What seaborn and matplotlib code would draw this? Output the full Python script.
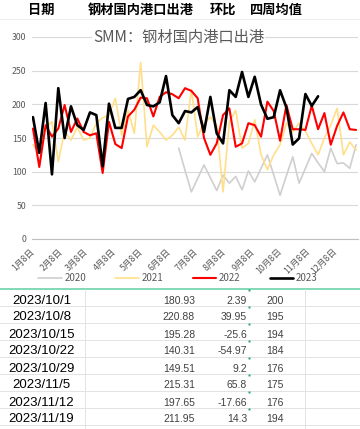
import pandas as pd
import matplotlib
matplotlib.use("Agg")
import matplotlib.pyplot as plt
import seaborn as sns
from matplotlib.lines import Line2D

# ---------------- data ----------------
years = ["2020", "2021", "2022", "2023"]
line_colors = ["#D0CECE", "#FFDF8A", "#FF0000", "#000000"]
line_widths = [1.2, 1.2, 1.5, 1.9]

# weekly port outflow (10k t), week 0 = Jan 8
start_2020 = 23
vals_2020 = [135, 102, 70, 90, 110, 91, 72, 95, 83, 93, 73, 101, 85, 105, 125,
             95, 65, 94, 122, 83, 105, 127, 113, 100, 135, 112, 113, 105, 140]
vals_2021 = [140, 127, 166, 174, 115, 160, 147, 166, 147, 150, 172, 180, 184,
             209, 154, 191, 157, 262, 137, 169, 159, 147, 154, 166, 147, 222,
             152, 172, 181, 169, 70, 174, 191, 135, 142, 177, 125, 103, 125,
             140, 172, 159, 172, 160, 142, 125, 150, 169, 194, 125, 144, 132]
vals_2022 = [164, 107, 169, 152, 164, 199, 159, 179, 159, 154, 157, 98, 174,
             141, 135, 182, 192, 210, 209, 182, 211, 218, 215, 209, 224, 220,
             209, 150, 125, 142, 184, 194, 137, 142, 172, 169, 152, 204, 190,
             146, 199, 163, 163, 162, 198, 163, 187, 140, 168, 188, 163, 162]
vals_2023 = [181, 128, 202, 96, 224, 150, 197, 169, 162, 188, 184, 108, 201,
             165, 165, 208, 211, 221, 199, 197, 203, 242, 184, 172, 190, 188,
             196, 159, 211, 157, 142, 221, 211, 248, 211, 240.9, 199.65, 178.54,
             180.93, 220.88, 195.28, 140.31, 149.51, 215.31, 197.65, 211.95]

month_labels = ["1月8日", "2月8日", "3月8日", "4月8日", "5月8日", "6月8日",
                "7月8日", "8月8日", "9月8日", "10月8日", "11月8日", "12月8日"]

header_labels = ["日期", "钢材国内港口出港", "环比", "四周均值"]
table_dates = ["2023/10/1", "2023/10/8", "2023/10/15", "2023/10/22",
               "2023/10/29", "2023/11/5", "2023/11/12", "2023/11/19"]
table_values = ["180.93", "220.88", "195.28", "140.31",
                "149.51", "215.31", "197.65", "211.95"]
table_change = ["2.39", "39.95", "-25.6", "-54.97", "9.2", "65.8", "-17.66", "14.3"]
table_avg4 = ["200", "195", "194", "184", "176", "175", "176", "194"]

rows = []
for yr, start, vals in [("2020", start_2020, vals_2020), ("2021", 0, vals_2021),
                        ("2022", 0, vals_2022), ("2023", 0, vals_2023)]:
    for i, v in enumerate(vals):
        rows.append({"week": start + i, "value": v, "year": yr})
df = pd.DataFrame(rows)

# ---------------- style ----------------
sns.set_style("white")
plt.rcParams["font.family"] = ["Noto Sans CJK SC", "DejaVu Sans"]

W, H = 360, 429
fig = plt.figure(figsize=(W / 100, H / 100), dpi=100)
fig.patch.set_facecolor("white")

# chart axes, placed in pixel terms
px_l, px_r, px_t, px_b = 32, 358, 37, 239
ax = fig.add_axes([px_l / W, 1 - px_b / H, (px_r - px_l) / W, (px_b - px_t) / H])

for yr, c, lw in zip(years, line_colors, line_widths):
    sns.lineplot(data=df[df["year"] == yr], x="week", y="value", color=c,
                 lw=lw, ax=ax, legend=False)

ax.set_xlim(-0.15, 51.3)
ax.set_ylim(0, 300)
ax.set_yticks(range(0, 301, 50))
ax.set_xlabel("")
ax.set_ylabel("")
ax.yaxis.grid(True, color="#D9D9D9", lw=0.8)
ax.set_axisbelow(True)
for s in ["left", "top", "right"]:
    ax.spines[s].set_visible(False)
ax.spines["bottom"].set_color("#BFBFBF")
ax.spines["bottom"].set_linewidth(0.8)

tick_pos = [(pd.Timestamp(2023, m, 8) - pd.Timestamp(2023, 1, 8)).days / 7
            for m in range(1, 13)]
ax.set_xticks(tick_pos)
ax.set_xticklabels(month_labels, rotation=45, ha="right", va="center",
                   rotation_mode="anchor", fontsize=6.3, color="#595959")
ax.tick_params(axis="x", direction="out", length=3, width=0.8,
               color="#BFBFBF", pad=5)
ax.tick_params(axis="y", length=0, pad=4, labelsize=6.3, labelcolor="#595959")

handles = [Line2D([], [], color=c, lw=lw) for c, lw in zip(line_colors, line_widths)]
fig.legend(handles, years, loc="center", bbox_to_anchor=(178 / W, 1 - 278 / H),
           ncol=4, frameon=False, fontsize=7, handlelength=2.4,
           handletextpad=0.3, columnspacing=3.0, labelcolor="#595959")

# ---------------- overlay: header, title, table ----------------
ov = fig.add_axes([0, 0, 1, 1])
ov.set_axis_off()
ov.set_xlim(0, W)
ov.set_ylim(H, 0)

for txt, x in zip(header_labels, [41.5, 140.5, 222.5, 276.5]):
    ov.text(x, 9.5, txt, ha="center", va="center", fontsize=9.5,
            fontweight="bold", color="#000000")
ov.plot([0, W], [19, 19], color="#EDEDED", lw=0.8)

ov.text(178.5, 37.5, "SMM：钢材国内港口出港", ha="center", va="center",
        fontsize=11, color="#595959",
        bbox=dict(facecolor="white", edgecolor="none", pad=1.0))

row_h = 17.0
ov.plot([0, W], [289, 289], color="#6CD3A9", lw=1.2)
for k in range(8):
    yb = 289 + row_h * (k + 1)
    ov.plot([0, W], [yb, yb], color="#E3E3E3", lw=0.7)
for xv in [85, 305]:
    ov.plot([xv, xv], [289, H], color="#E3E3E3", lw=0.7)

for k in range(8):
    yc = 300.5 + row_h * k
    ov.text(41.5, yc, table_dates[k], ha="center", va="center", fontsize=9.5,
            color="#000000", family=["Liberation Sans", "DejaVu Sans"])
    ov.text(195, yc, table_values[k], ha="right", va="center", fontsize=7.5,
            color="#404040", family=["Liberation Sans", "DejaVu Sans"])
    ov.text(247, yc, table_change[k], ha="right", va="center", fontsize=7.5,
            color="#404040", family=["Liberation Sans", "DejaVu Sans"])
    ov.text(275, yc, table_avg4[k], ha="center", va="center", fontsize=7.5,
            color="#404040", family=["Liberation Sans", "DejaVu Sans"])
    ov.plot([249], [290 + row_h * k], marker="s", ms=1.4, color="#21A366", mew=0)

fig.savefig("out.png", dpi=100, facecolor="white")
